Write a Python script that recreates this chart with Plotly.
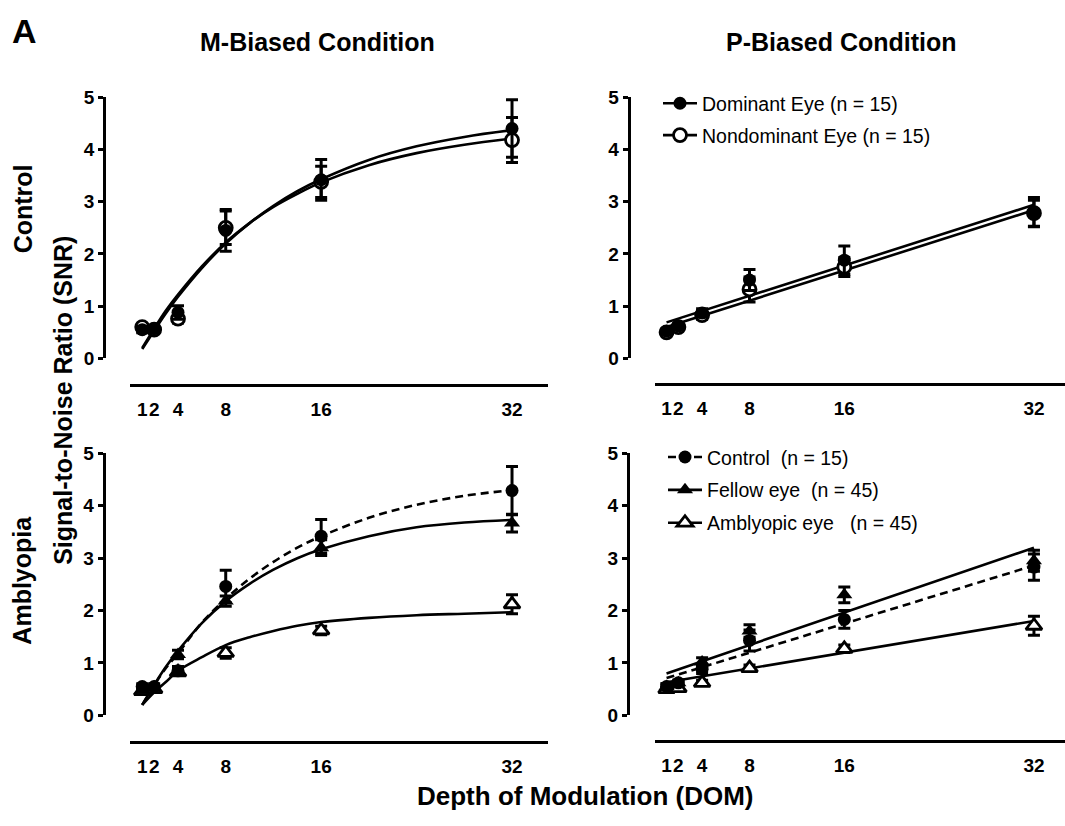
import plotly.graph_objects as go

W, H = 1065, 826

# ---------------- data ----------------
dom_levels = [1, 2, 4, 8, 16, 32]
tick_labels = ["1", "2", "4", "8", "16", "32"]
y_ticks = [0, 1, 2, 3, 4, 5]

# M-biased condition, control group
m_ctrl_dom = [0.55, 0.57, 0.88, 2.45, 3.42, 4.40]
m_ctrl_dom_err = [0.06, 0.06, 0.13, 0.40, 0.39, 0.55]
m_ctrl_nondom = [0.60, 0.55, 0.76, 2.50, 3.38, 4.18]
m_ctrl_nondom_err = [0.06, 0.06, 0.08, 0.32, 0.30, 0.43]
# fitted curves
m_fit_x = [1, 2, 3, 4, 6, 8, 10, 12, 14, 16, 20, 24, 28, 32]
m_fit_dom = [0.18, 0.53, 0.87, 1.18, 1.73, 2.20, 2.59, 2.92, 3.20, 3.43, 3.80, 4.06, 4.24, 4.37]
m_fit_nondom = [0.20, 0.57, 0.92, 1.22, 1.76, 2.22, 2.59, 2.90, 3.15, 3.37, 3.70, 3.93, 4.09, 4.21]

# P-biased condition, control group
p_ctrl_dom = [0.52, 0.62, 0.87, 1.50, 1.88, 2.80]
p_ctrl_dom_err = [0.05, 0.05, 0.08, 0.20, 0.27, 0.28]
p_ctrl_nondom = [0.50, 0.60, 0.83, 1.32, 1.75, 2.78]
p_ctrl_nondom_err = [0.05, 0.05, 0.08, 0.24, 0.18, 0.25]
p_fit_x = [1, 32]
p_fit_dom = [0.69, 2.94]
p_fit_nondom = [0.60, 2.84]

# M-biased condition, amblyopia group
ma_control = [0.55, 0.55, 0.85, 2.46, 3.42, 4.29]
ma_control_err = [0.05, 0.05, 0.08, 0.31, 0.32, 0.46]
ma_fellow = [0.48, 0.52, 1.16, 2.18, 3.20, 3.67]
ma_fellow_err = [0.04, 0.04, 0.08, 0.10, 0.15, 0.17]
ma_amblyopic = [0.46, 0.50, 0.82, 1.19, 1.62, 2.12]
ma_amblyopic_err = [0.04, 0.04, 0.06, 0.10, 0.08, 0.18]
ma_fit_x = [1, 2, 3, 4, 6, 8, 10, 12, 14, 16, 20, 24, 28, 32]
ma_fit_control = [0.20, 0.57, 0.91, 1.18, 1.77, 2.22, 2.61, 2.93, 3.20, 3.42, 3.77, 4.02, 4.19, 4.30]
ma_fit_fellow = [0.20, 0.58, 0.93, 1.23, 1.76, 2.18, 2.51, 2.78, 3.00, 3.17, 3.42, 3.59, 3.68, 3.73]
ma_fit_amblyopic = [0.20, 0.44, 0.64, 0.85, 1.11, 1.34, 1.49, 1.61, 1.71, 1.78, 1.86, 1.91, 1.94, 1.97]

# P-biased condition, amblyopia group
pa_control = [0.55, 0.62, 0.88, 1.43, 1.83, 2.83]
pa_control_err = [0.05, 0.05, 0.08, 0.20, 0.17, 0.25]
pa_fellow = [0.55, 0.62, 1.02, 1.61, 2.30, 2.95]
pa_fellow_err = [0.05, 0.05, 0.08, 0.12, 0.15, 0.20]
pa_amblyopic = [0.50, 0.52, 0.62, 0.90, 1.27, 1.71]
pa_amblyopic_err = [0.04, 0.04, 0.05, 0.06, 0.07, 0.18]
pa_fit_x = [1, 32]
pa_fit_control = [0.71, 2.86]
pa_fit_fellow = [0.80, 3.20]
pa_fit_amblyopic = [0.63, 1.80]

# ---------------- styling ----------------
FONT = "Liberation Sans, Arial, Helvetica, sans-serif"
BLACK = "black"
LW = 2.6
MS = 13

fig = go.Figure()


def curve(x, y, ax, dash="solid"):
    fig.add_trace(go.Scatter(
        x=x, y=y, mode="lines", line=dict(color=BLACK, width=LW, dash=dash, shape="spline", smoothing=1.0),
        xaxis=ax[0], yaxis=ax[1], showlegend=False, hoverinfo="skip"))


def points(y, err, ax, symbol="circle", filled=True):
    fig.add_trace(go.Scatter(
        x=dom_levels, y=y, mode="markers",
        marker=dict(symbol=symbol, size=MS if symbol == "circle" else MS + 1,
                    color=BLACK if filled else "white",
                    line=dict(color=BLACK, width=0 if filled else 2.8)),
        error_y=dict(type="data", array=err, visible=True, color=BLACK, thickness=3, width=6),
        xaxis=ax[0], yaxis=ax[1], showlegend=False, cliponaxis=False))


def legend_item(name, legend, group, symbol="circle", filled=True, dash="solid"):
    fig.add_trace(go.Scatter(
        x=[None], y=[None], mode="lines+markers", name=name, legend=legend, legendgroup=group,
        line=dict(color=BLACK, width=LW, dash=dash),
        marker=dict(symbol=symbol, size=MS if symbol == "circle" else MS + 1,
                    color=BLACK if filled else "white",
                    line=dict(color=BLACK, width=0 if filled else 2.8)),
        xaxis="x2" if legend == "legend" else "x4",
        yaxis="y2" if legend == "legend" else "y4"))


TL, TR, BL, BR = ("x", "y"), ("x2", "y2"), ("x3", "y3"), ("x4", "y4")
DASH = "8px,5px"

# curves
curve(m_fit_x, m_fit_dom, TL)
curve(m_fit_x, m_fit_nondom, TL)
curve(p_fit_x, p_fit_dom, TR)
curve(p_fit_x, p_fit_nondom, TR)
curve(ma_fit_x, ma_fit_control, BL, DASH)
curve(ma_fit_x, ma_fit_fellow, BL)
curve(ma_fit_x, ma_fit_amblyopic, BL)
curve(pa_fit_x, pa_fit_control, BR, DASH)
curve(pa_fit_x, pa_fit_fellow, BR)
curve(pa_fit_x, pa_fit_amblyopic, BR)

# points
points(m_ctrl_nondom, m_ctrl_nondom_err, TL, "circle", False)
points(m_ctrl_dom, m_ctrl_dom_err, TL, "circle", True)
points(p_ctrl_nondom, p_ctrl_nondom_err, TR, "circle", False)
points(p_ctrl_dom, p_ctrl_dom_err, TR, "circle", True)
points(ma_amblyopic, ma_amblyopic_err, BL, "triangle-up", False)
points(ma_fellow, ma_fellow_err, BL, "triangle-up", True)
points(ma_control, ma_control_err, BL, "circle", True)
points(pa_amblyopic, pa_amblyopic_err, BR, "triangle-up", False)
points(pa_fellow, pa_fellow_err, BR, "triangle-up", True)
points(pa_control, pa_control_err, BR, "circle", True)

# legends
legend_item("Dominant Eye (n = 15)", "legend", "a1", "circle", True)
legend_item("Nondominant Eye (n = 15)", "legend", "a2", "circle", False)
legend_item("Control\u00a0\u00a0(n = 15)", "legend2", "b1", "circle", True, DASH)
legend_item("Fellow eye\u00a0\u00a0(n = 45)", "legend2", "b2", "triangle-up", True)
legend_item("Amblyopic eye\u00a0\u00a0\u00a0(n = 45)", "legend2", "b3", "triangle-up", False)


def px_x(p):
    return p / W


def px_y(p):
    return 1 - p / H


tickfont = dict(family=FONT, size=19, color=BLACK, weight="bold")


def xaxis(dom_left, dom_right, rng_max, pos_px):
    return dict(domain=[px_x(dom_left), px_x(dom_right)],
                range=[0, rng_max], anchor="free", position=px_y(pos_px),
                showline=True, linecolor=BLACK, linewidth=3,
                tickmode="array", tickvals=dom_levels, ticktext=tick_labels, tickangle=0,
                ticks="outside", ticklen=6, tickcolor="rgba(0,0,0,0)",
                tickfont=tickfont, showgrid=False, zeroline=False, fixedrange=True)


def yaxis(bottom_px, top_px, pos_px):
    return dict(domain=[px_y(bottom_px), px_y(top_px)], range=[0, 5], anchor="free", position=px_x(pos_px),
                showline=True, linecolor=BLACK, linewidth=2.7,
                tickmode="array", tickvals=y_ticks, ticks="outside", ticklen=5, tickwidth=2.5, tickcolor=BLACK,
                tickfont=tickfont, showgrid=False, zeroline=False, fixedrange=True)


fig.update_layout(
    width=W, height=H, margin=dict(l=0, r=0, t=0, b=0),
    paper_bgcolor="white", plot_bgcolor="rgba(0,0,0,0)",
    font=dict(family=FONT, color=BLACK),
    xaxis=xaxis(130.3, 548.4, 35.05, 385),
    yaxis=yaxis(357.5, 89.5, 104),
    xaxis2=xaxis(654.7, 1065, 34.62, 383.5),
    yaxis2=yaxis(357.5, 89.5, 628.5),
    xaxis3=xaxis(130.3, 548.4, 35.05, 751.5),
    yaxis3=yaxis(723.7, 455, 103.5),
    xaxis4=xaxis(654.7, 1065, 34.62, 750),
    yaxis4=yaxis(723.7, 455, 627.7),
    legend=dict(x=px_x(658), y=px_y(76), xanchor="left", yanchor="top", bgcolor="rgba(0,0,0,0)",
                font=dict(family=FONT, size=19.5, color=BLACK), tracegroupgap=3.5, itemwidth=34,
                itemclick=False),
    legend2=dict(x=px_x(663), y=px_y(439), xanchor="left", yanchor="top", bgcolor="rgba(0,0,0,0)",
                 font=dict(family=FONT, size=19.5, color=BLACK), tracegroupgap=4.5, itemwidth=34,
                 itemclick=False),
    showlegend=True,
)


def label(text, xp, yp, size, angle=0, anchor="center"):
    fig.add_annotation(text="<b>%s</b>" % text, x=px_x(xp), y=px_y(yp), xref="paper", yref="paper",
                       showarrow=False, textangle=angle, xanchor=anchor, yanchor="middle",
                       font=dict(family=FONT, size=size, color=BLACK))


label("A", 10, 22, 34, anchor="left")
label("M-Biased Condition", 317, 33, 25)
label("P-Biased Condition", 841, 33, 25)
label("Control", 22.5, 204, 25, angle=-90)
label("Amblyopia", 22.5, 585, 25, angle=-90)
label("Signal-to-Noise Ratio (SNR)", 63, 401, 25, angle=-90)
label("Depth of Modulation (DOM)", 585, 807, 26)

fig.write_html("out.html")
